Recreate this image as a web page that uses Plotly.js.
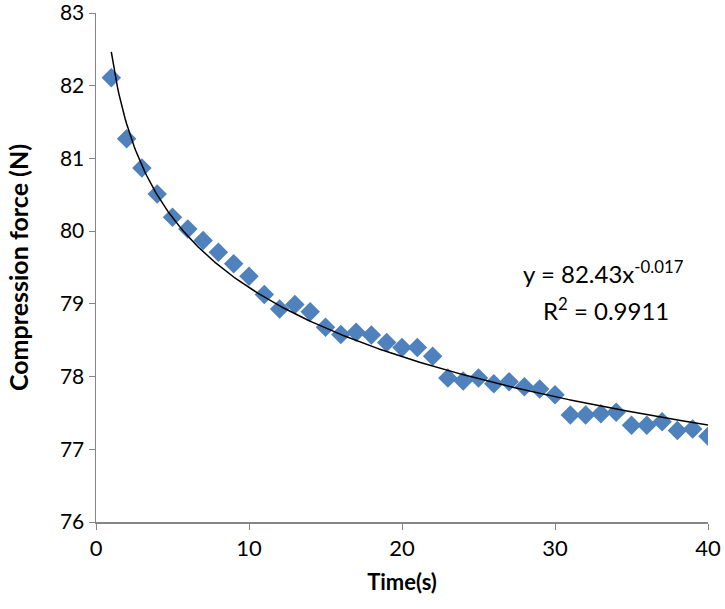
<!DOCTYPE html>
<html>
<head>
<meta charset="utf-8">
<script src="https://cdn.plot.ly/plotly-3.0.1.min.js"></script>
<style>html,body{margin:0;padding:0;background:#fff;}#chart{width:725px;height:609px;}</style>
</head>
<body>
<div id="chart"></div>
<script>
// Data
const timeS = [1,2,3,4,5,6,7,8,9,10,11,12,13,14,15,16,17,18,19,20,21,22,23,24,25,26,27,28,29,30,31,32,33,34,35,36,37,38,39,40];
const forceN = [82.11,81.27,80.87,80.51,80.19,80.03,79.87,79.71,79.55,79.38,79.13,78.93,78.99,78.89,78.68,78.58,78.61,78.57,78.47,78.40,78.40,78.28,77.98,77.94,77.98,77.90,77.93,77.86,77.83,77.75,77.47,77.47,77.49,77.51,77.33,77.33,77.38,77.26,77.28,77.18];
const equationText = "y = 82.43x<sup>-0.017</sup>";
const r2Text = "R<sup>2</sup> = 0.9911";

// Power-law trendline: least-squares fit in log-log space from the data
const lx = timeS.map(Math.log), ly = forceN.map(Math.log);
const n = lx.length;
const mx = lx.reduce((a,b)=>a+b,0)/n, my = ly.reduce((a,b)=>a+b,0)/n;
let sxy=0, sxx=0;
for (let i=0;i<n;i++){ sxy += (lx[i]-mx)*(ly[i]-my); sxx += (lx[i]-mx)*(lx[i]-mx); }
const bExp = sxy/sxx, aCoef = Math.exp(my - bExp*mx);
const fitX = [], fitY = [];
for (let k=0;k<=390;k++){ const x = 1 + k*0.1; fitX.push(x); fitY.push(aCoef*Math.pow(x,bExp)); }

const fontFam = "Lato, 'Open Sans', sans-serif";
const traces = [
  {x: timeS, y: forceN, type:'scatter', mode:'markers',
   marker:{symbol:'diamond', size:15, color:'#4F81BD'}, showlegend:false, hoverinfo:'x+y'},
  {x: fitX, y: fitY, type:'scatter', mode:'lines',
   line:{color:'#000000', width:1.5}, showlegend:false, hoverinfo:'skip'}
];
const layout = {
  width:725, height:609,
  margin:{l:96, r:17, t:13, b:87},
  paper_bgcolor:'#ffffff', plot_bgcolor:'#ffffff',
  font:{family:fontFam, color:'#000000', size:21},
  xaxis:{range:[0,40], dtick:10, tick0:0, showgrid:false, zeroline:false, automargin:false,
    showline:true, linecolor:'#868686', linewidth:1.5, ticks:'outside', ticklen:6, tickcolor:'#868686',
    ticklabeloverflow:'allow',
    tickfont:{family:fontFam, size:22, color:'#000'},
    title:{text:'<b>Time(s)</b>', font:{family:fontFam, size:22, color:'#000'}, standoff:14}},
  yaxis:{range:[76,83], dtick:1, tick0:76, showgrid:false, zeroline:false, automargin:false,
    showline:true, linecolor:'#868686', linewidth:1.5, ticks:'outside', ticklen:6, tickcolor:'#868686',
    ticklabeloverflow:'allow',
    tickfont:{family:fontFam, size:21, color:'#000'},
    title:{text:'<b>Compression force (N)</b>', font:{family:fontFam, size:25, color:'#000'}, standoff:24}},
  annotations:[
    {xref:'paper', yref:'paper', x:(603-96)/612, y:(522-272)/509, text:equationText, showarrow:false,
     font:{family:fontFam, size:24, color:'#000'}, xanchor:'center', yanchor:'middle'},
    {xref:'paper', yref:'paper', x:(606-96)/612, y:(522-309)/509, text:r2Text, showarrow:false,
     font:{family:fontFam, size:24, color:'#000'}, xanchor:'center', yanchor:'middle'}
  ]
};
Plotly.newPlot('chart', traces, layout, {displayModeBar:false, staticPlot:true});
</script>
</body>
</html>
